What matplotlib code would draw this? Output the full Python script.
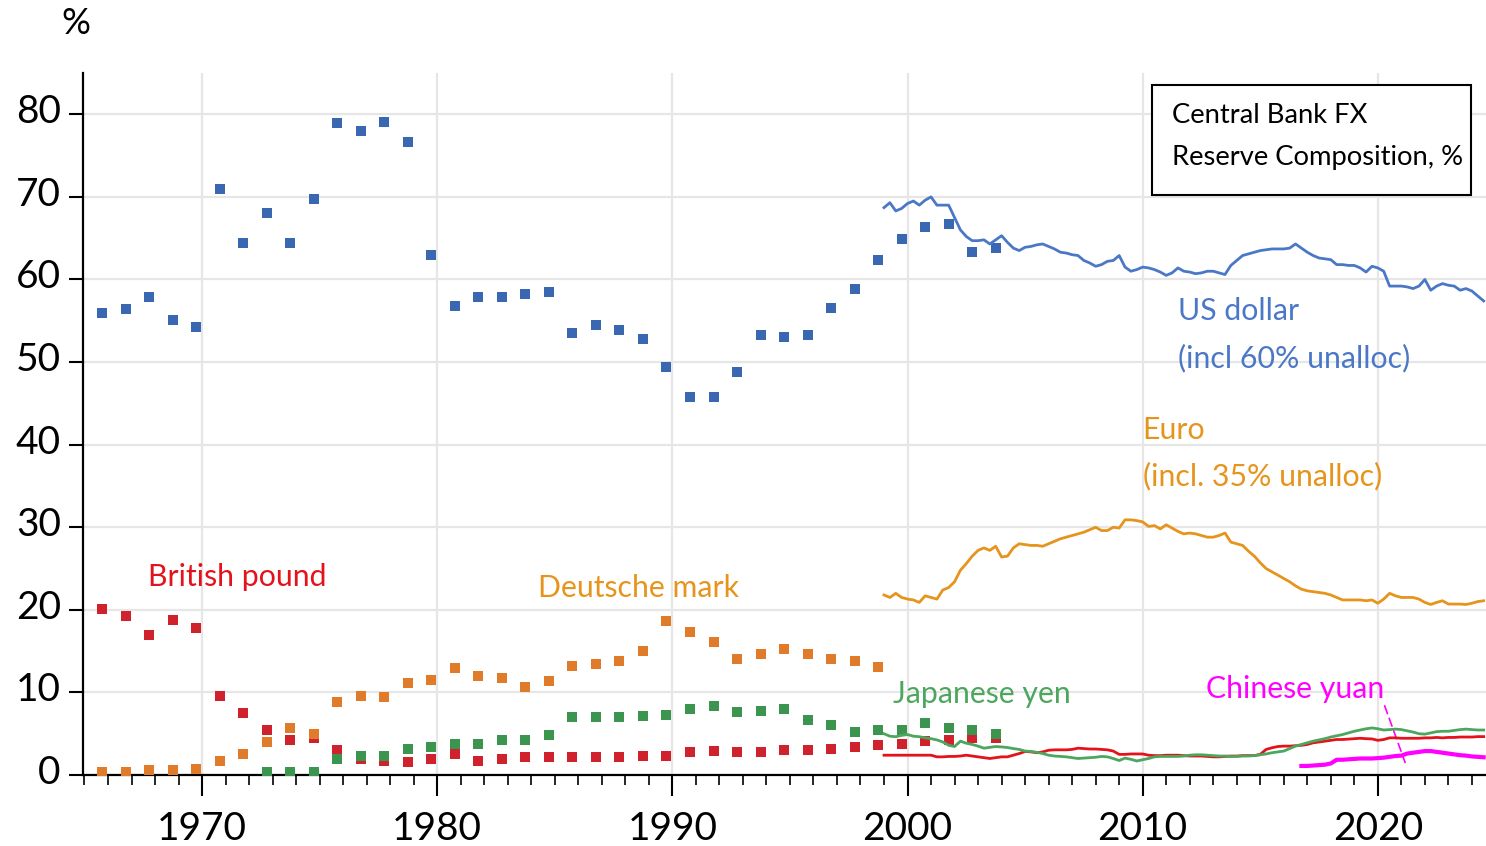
import matplotlib
matplotlib.use('Agg')
import matplotlib.pyplot as plt
import matplotlib.transforms as mtransforms
import numpy as np
from matplotlib.patches import Rectangle
from matplotlib.ticker import MultipleLocator

plt.rcParams['font.family'] = ['Lato', 'DejaVu Sans']

# ---- annual data (squares), 1965-2003 ----
years = np.arange(1965, 2004)
usd_annual = [56.0, 56.4, 57.9, 55.1, 54.2, 70.9, 64.4, 68.1, 64.4, 69.8,
              78.9, 78.0, 79.1, 76.6, 63.0, 56.8, 57.9, 57.9, 58.2, 58.5,
              53.5, 54.5, 53.9, 52.8, 49.4, 45.8, 45.8, 48.8, 53.3, 53.0,
              53.3, 56.5, 58.9, 62.4, 64.9, 66.4, 66.7, 63.3, 63.8]
gbp_annual = [20.1, 19.2, 16.9, 18.8, 17.8, 9.6, 7.5, 5.5, 4.2, 4.5,
              3.0, 1.95, 1.7, 1.6, 1.9, 2.6, 1.7, 1.9, 2.15, 2.15,
              2.15, 2.15, 2.15, 2.35, 2.35, 2.8, 2.95, 2.8, 2.8, 3.0,
              3.0, 3.2, 3.4, 3.6, 3.8, 4.1, 4.2, 4.5, 4.5]
dm_years = np.arange(1965, 1999)
dm_annual = [0.35, 0.35, 0.55, 0.55, 0.7, 1.7, 2.6, 4.0, 5.7, 5.0,
             8.8, 9.6, 9.4, 11.1, 11.5, 12.9, 12.0, 11.75, 10.6, 11.35,
             13.2, 13.4, 13.8, 15.0, 18.6, 17.3, 16.1, 14.0, 14.7, 15.3,
             14.7, 14.0, 13.8, 13.1]
jpy_years = np.arange(1972, 2004)
jpy_annual = [0.4, 0.4, 0.4, 1.9, 2.3, 2.35, 3.2, 3.4, 3.8, 3.8,
              4.2, 4.2, 4.9, 7.0, 7.0, 7.0, 7.1, 7.3, 8.0, 8.4,
              7.6, 7.8, 8.0, 6.7, 6.1, 5.2, 5.5, 5.5, 6.3, 5.7,
              5.5, 5.0]

# ---- quarterly data (lines), 1999Q1-2024Q3 ----
q_start = 1999.0
usd_q = [68.7, 69.3, 68.3, 68.6, 69.2, 69.5, 69.0, 69.6, 70.0, 69.0, 69.0, 69.0,
         67.5, 66.0, 65.2, 64.7, 64.7, 64.8, 64.3, 64.8, 65.3, 64.5, 63.8, 63.5,
         63.9, 64.0, 64.2, 64.3, 64.0, 63.7, 63.3, 63.2, 63.0, 62.9, 62.3, 62.0,
         61.6, 61.8, 62.2, 62.3, 62.9, 61.5, 61.0, 61.2, 61.5, 61.4, 61.2, 60.9,
         60.5, 60.8, 61.4, 61.0, 60.9, 60.7, 60.8, 61.0, 61.0, 60.8, 60.6, 61.7,
         62.3, 62.9, 63.1, 63.3, 63.5, 63.6, 63.7, 63.7, 63.7, 63.8, 64.3, 63.8,
         63.3, 62.9, 62.6, 62.5, 62.4, 61.8, 61.8, 61.7, 61.7, 61.4, 60.9, 61.6,
         61.4, 61.0, 59.2, 59.2, 59.2, 59.1, 58.9, 59.2, 60.0, 58.7, 59.2, 59.5,
         59.3, 59.2, 58.7, 58.9, 58.6, 58.0, 57.4]
eur_q = [21.8, 21.5, 22.0, 21.5, 21.3, 21.2, 20.9, 21.7, 21.5, 21.3, 22.4, 22.7,
         23.4, 24.8, 25.6, 26.5, 27.2, 27.5, 27.2, 27.7, 26.4, 26.5, 27.5, 28.0,
         27.9, 27.8, 27.8, 27.7, 28.0, 28.3, 28.6, 28.8, 29.0, 29.2, 29.4, 29.7,
         30.0, 29.6, 29.6, 30.0, 29.9, 30.9, 30.9, 30.8, 30.65, 30.1, 30.2, 29.8,
         30.3, 29.9, 29.5, 29.2, 29.3, 29.2, 29.0, 28.8, 28.8, 29.0, 29.3, 28.2,
         28.0, 27.8, 27.1, 26.5, 25.7, 25.0, 24.6, 24.2, 23.8, 23.4, 22.9, 22.5,
         22.3, 22.2, 22.1, 22.0, 21.8, 21.5, 21.2, 21.2, 21.2, 21.2, 21.1, 21.2,
         20.8, 21.3, 22.0, 21.7, 21.5, 21.5, 21.5, 21.3, 20.9, 20.65, 20.9, 21.1,
         20.7, 20.7, 20.7, 20.65, 20.8, 21.0, 21.1]
gbp_q = [2.4, 2.4, 2.4, 2.4, 2.4, 2.4, 2.4, 2.4, 2.4, 2.2, 2.2, 2.25,
         2.25, 2.3, 2.4, 2.3, 2.2, 2.1, 2.0, 2.1, 2.2, 2.2, 2.4, 2.6,
         2.85, 2.8, 2.7, 2.8, 3.0, 3.05, 3.05, 3.05, 3.1, 3.25, 3.2, 3.15,
         3.15, 3.1, 3.05, 2.9, 2.5, 2.5, 2.55, 2.55, 2.55, 2.4, 2.35, 2.35,
         2.4, 2.4, 2.4, 2.35, 2.3, 2.3, 2.3, 2.25, 2.2, 2.2, 2.25, 2.3,
         2.3, 2.35, 2.35, 2.35, 2.5, 3.1, 3.3, 3.45, 3.5, 3.5, 3.55, 3.6,
         3.7, 3.9, 4.0, 4.1, 4.2, 4.3, 4.3, 4.35, 4.4, 4.45, 4.4, 4.37,
         4.2, 4.3, 4.5, 4.5, 4.45, 4.45, 4.45, 4.45, 4.5, 4.5, 4.55, 4.5,
         4.55, 4.55, 4.6, 4.6, 4.6, 4.65, 4.65]
jpy_q = [5.0, 4.7, 4.64, 4.8, 4.9, 4.7, 4.64, 4.5, 4.4, 4.25, 4.0, 3.6,
         3.45, 4.1, 3.85, 3.7, 3.5, 3.25, 3.35, 3.45, 3.4, 3.33, 3.2, 3.1,
         2.9, 2.85, 2.75, 2.6, 2.4, 2.3, 2.25, 2.2, 2.1, 2.0, 2.05, 2.1,
         2.15, 2.25, 2.2, 2.0, 1.75, 2.05, 1.9, 1.7, 1.85, 2.0, 2.2, 2.25,
         2.25, 2.25, 2.25, 2.3, 2.4, 2.45, 2.45, 2.4, 2.35, 2.3, 2.3, 2.25,
         2.25, 2.3, 2.3, 2.35, 2.45, 2.55, 2.7, 2.8, 2.9, 3.2, 3.5, 3.7,
         3.9, 4.1, 4.25, 4.4, 4.6, 4.75, 4.9, 5.1, 5.3, 5.45, 5.6, 5.7,
         5.6, 5.45, 5.5, 5.56, 5.5, 5.35, 5.2, 5.0, 4.95, 5.1, 5.25, 5.3,
         5.3, 5.4, 5.5, 5.56, 5.5, 5.45, 5.45]
cny_start = 2016.75
cny_q = [1.1, 1.1, 1.15, 1.2, 1.25, 1.4, 1.85, 1.85, 1.9, 1.95, 2.0, 2.0, 2.0,
         2.05, 2.1, 2.2, 2.3, 2.35, 2.6, 2.7, 2.8, 2.9, 2.9, 2.8, 2.7,
         2.6, 2.5, 2.4, 2.35, 2.25, 2.2, 2.15]

qx = q_start + 0.25 * np.arange(len(usd_q))
cx = cny_start + 0.25 * np.arange(len(cny_q))
ax_year = years + 0.75  # annual obs plotted at end of year

C_USD_SQ, C_USD_LN = '#3967B2', '#4A78C6'
C_GBP_SQ, C_GBP_LN = '#D0222C', '#E3121B'
C_DM_SQ, C_DM_TXT = '#E07B2A', '#E6941C'
C_EUR = '#E6941C'
C_JPY_SQ, C_JPY_LN = '#3B954F', '#4CA65E'
C_CNY = '#FF00FF'

fig = plt.figure(figsize=(14.86, 8.46), dpi=100)
ax = fig.add_axes([0.0559, 0.0839, 0.9441, 0.8298])

ms = 7
ax.plot(ax_year, usd_annual, 's', color=C_USD_SQ, ms=ms, mew=0, zorder=3)
ax.plot(ax_year, gbp_annual, 's', color=C_GBP_SQ, ms=ms, mew=0, zorder=3)
ax.plot(dm_years + 0.75, dm_annual, 's', color=C_DM_SQ, ms=ms, mew=0, zorder=3)
ax.plot(jpy_years + 0.75, jpy_annual, 's', color=C_JPY_SQ, ms=ms, mew=0, zorder=3)

ax.plot(qx, usd_q, color=C_USD_LN, lw=2.0, zorder=4)
ax.plot(qx, eur_q, color=C_EUR, lw=2.0, zorder=4)
ax.plot(qx, gbp_q, color=C_GBP_LN, lw=2.0, zorder=4)
ax.plot(qx, jpy_q, color=C_JPY_LN, lw=2.0, zorder=4)
ax.plot(cx, cny_q, color=C_CNY, lw=3, zorder=4)

ax.set_xlim(1964.94, 2024.6)
ax.set_ylim(0, 85)
ax.set_yticks(np.arange(0, 81, 10))
ax.set_xticks(np.arange(1970, 2021, 10))
ax.xaxis.set_minor_locator(MultipleLocator(1))
ax.grid(True, which='major', color='#E6E6E6', lw=1.6, zorder=0)
ax.set_axisbelow(True)
for s in ['top', 'right']:
    ax.spines[s].set_visible(False)
for s in ['left', 'bottom']:
    ax.spines[s].set_linewidth(1.6)
ax.tick_params(axis='y', which='major', direction='out', length=10, width=1.5,
               labelsize=28, pad=6)
ax.tick_params(axis='x', which='major', direction='out', length=15, width=1.5,
               labelsize=28, pad=11)
ax.tick_params(axis='x', which='minor', direction='out', length=7, width=1.2)
# y labels sit a little above their ticks in the original
shift = mtransforms.ScaledTranslation(0, 4 / 72, fig.dpi_scale_trans)
for t in ax.get_yticklabels():
    t.set_transform(t.get_transform() + shift)

ax.text(-0.005, 1.07, '%', transform=ax.transAxes, fontsize=26, ha='center', va='center')

lab = dict(fontsize=21.8, va='center', ha='left')
ax.text(2011.5, 56.2, 'US dollar', color=C_USD_LN, **lab)
ax.text(2011.5, 50.5, '(incl 60% unalloc)', color=C_USD_LN, **lab)
ax.text(2010.0, 41.8, 'Euro', color=C_EUR, **lab)
ax.text(2010.0, 36.2, '(incl. 35% unalloc)', color=C_EUR, **lab)
ax.text(1967.7, 24.0, 'British pound', color=C_GBP_LN, **lab)
ax.text(1984.3, 22.6, 'Deutsche mark', color=C_DM_TXT, **lab)
ax.text(1999.4, 9.8, 'Japanese yen', color=C_JPY_LN, **lab)
ax.text(2012.7, 10.4, 'Chinese yuan', color=C_CNY, **lab)
ax.annotate('', xy=(2021.2, 1.2), xytext=(2020.25, 8.7),
            arrowprops=dict(arrowstyle='-', color=C_CNY, lw=1.2, linestyle=(0, (5, 3))))

ax.add_patch(Rectangle((0.762, 0.826), 0.227, 0.157, transform=ax.transAxes,
                       facecolor='white', edgecolor='black', lw=1.5, zorder=6))
ax.text(0.776, 0.940, 'Central Bank FX', transform=ax.transAxes, fontsize=19.7,
        va='center', zorder=7)
ax.text(0.776, 0.879, 'Reserve Composition, %', transform=ax.transAxes, fontsize=19.7,
        va='center', zorder=7)

fig.savefig('out.png', dpi=100)
